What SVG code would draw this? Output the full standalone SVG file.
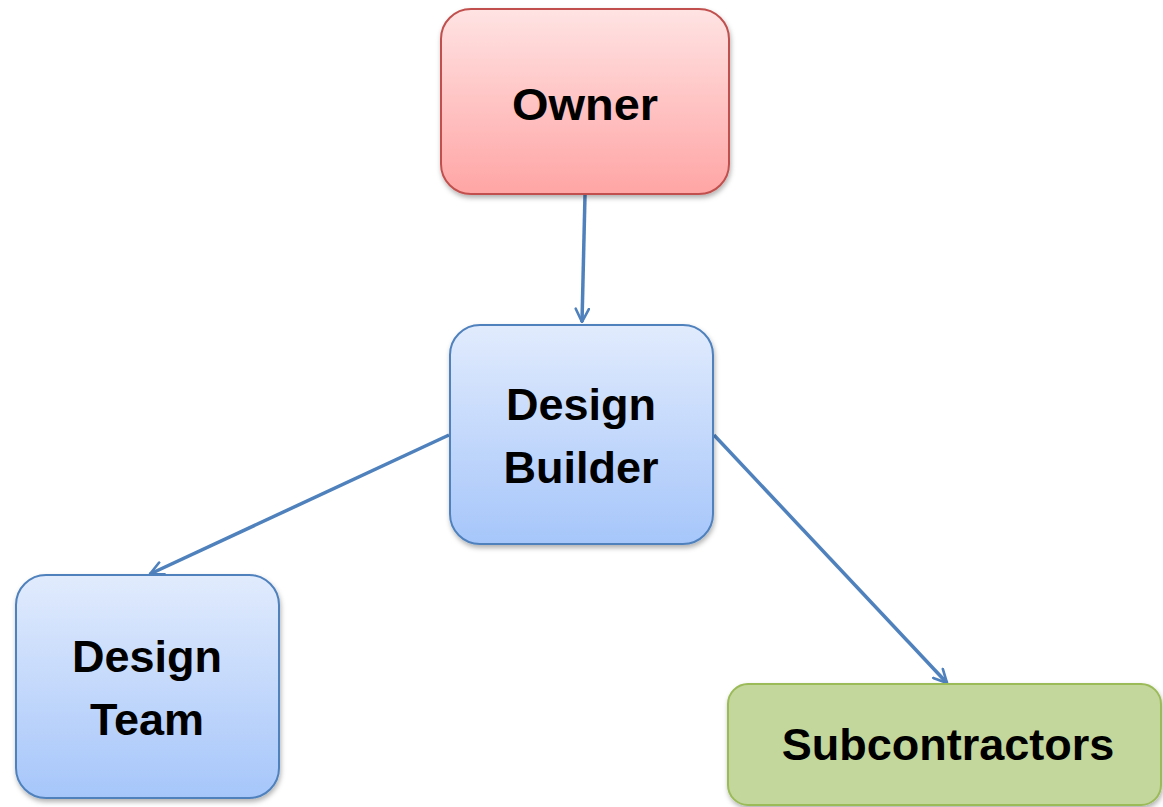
<svg xmlns="http://www.w3.org/2000/svg" width="1163" height="807" viewBox="0 0 1163 807">
  <defs>
    <linearGradient id="gRed" x1="0" y1="0" x2="0" y2="1">
      <stop offset="0" stop-color="#ffe3e3"/>
      <stop offset="1" stop-color="#ffa5a5"/>
    </linearGradient>
    <linearGradient id="gBlue" x1="0" y1="0" x2="0" y2="1">
      <stop offset="0" stop-color="#e1ebfd"/>
      <stop offset="1" stop-color="#a6c6fa"/>
    </linearGradient>
    <filter id="shadow" x="-10%" y="-10%" width="120%" height="130%">
      <feDropShadow dx="1" dy="3" stdDeviation="2.5" flood-color="#000" flood-opacity="0.3"/>
    </filter>
    <marker id="arrow" viewBox="0 0 12 12" refX="11" refY="6" markerWidth="4.5" markerHeight="4.5" orient="auto" markerUnits="strokeWidth">
      <path d="M1,1 L11,6 L1,11" fill="none" stroke="#4f81bd" stroke-width="2" stroke-linecap="round" stroke-linejoin="round"/>
    </marker>
  </defs>
  <style>
    .box { stroke-width: 2; filter: url(#shadow); }
    .red { fill: url(#gRed); stroke: #c0504d; }
    .blue { fill: url(#gBlue); stroke: #4f81bd; }
    .green { fill: #c3d69b; stroke: #9bbb59; }
    .label { font-family: "Liberation Sans", Arial, sans-serif; font-weight: bold; font-size: 45px; fill: #000; text-anchor: middle; }
    .edge { fill: none; stroke: #4f81bd; stroke-width: 3.5; marker-end: url(#arrow); }
  </style>
  <rect width="1163" height="807" fill="#fff"/>

  <g id="connectors">
    <line class="edge" x1="585" y1="195" x2="582" y2="322"/>
    <line class="edge" x1="449" y1="435" x2="150" y2="574"/>
    <line class="edge" x1="714" y1="435" x2="947" y2="683"/>
  </g>

  <g id="owner">
    <rect class="box red" x="441" y="9" width="288" height="185" rx="30"/>
    <text class="label" x="585" y="120" textLength="146" lengthAdjust="spacingAndGlyphs">Owner</text>
  </g>

  <g id="design-builder">
    <rect class="box blue" x="450" y="325" width="263" height="219" rx="30"/>
    <text class="label" x="581" y="420">Design</text>
    <text class="label" x="581" y="483">Builder</text>
  </g>

  <g id="design-team">
    <rect class="box blue" x="16" y="575" width="263" height="223" rx="30"/>
    <text class="label" x="147" y="672">Design</text>
    <text class="label" x="147" y="735">Team</text>
  </g>

  <g id="subcontractors">
    <rect class="box green" x="728" y="684" width="433" height="121" rx="20"/>
    <text class="label" x="948" y="760">Subcontractors</text>
  </g>
</svg>
